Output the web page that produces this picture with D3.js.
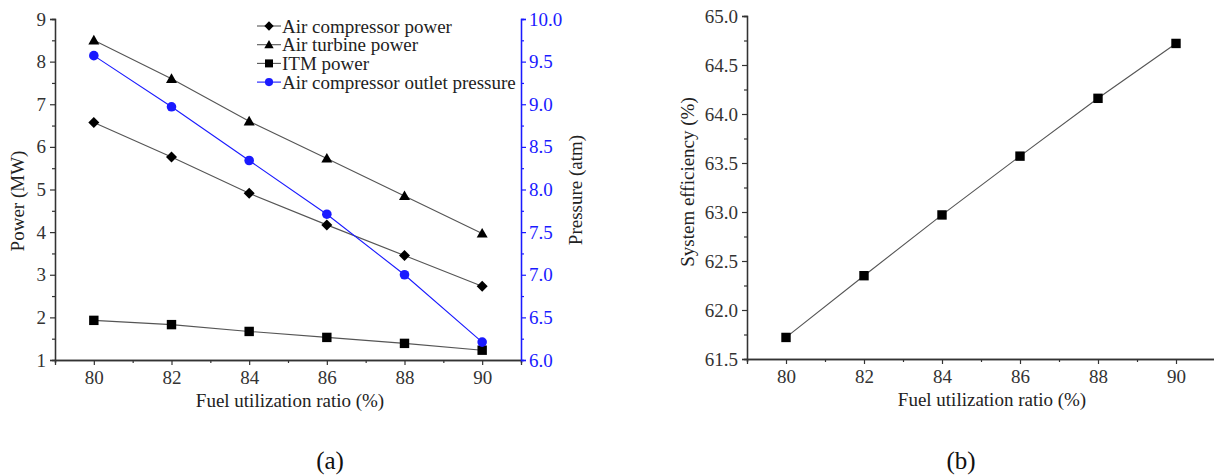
<!DOCTYPE html>
<html>
<head>
<meta charset="utf-8">
<script src="https://cdn.jsdelivr.net/npm/d3@7"></script>
<style>
  body { margin: 0; background: #fff; }
</style>
</head>
<body>
<div class="canvas"></div>
<script>
// fuel utilization ratio (%)
const fuel = [80, 82, 84, 86, 88, 90];

// panel (a)
const compPower = [6.57, 5.76, 4.91, 4.17, 3.45, 2.73];
const turbPower = [8.50, 7.60, 6.60, 5.73, 4.85, 3.97];
const itmPower = [1.93, 1.83, 1.67, 1.53, 1.39, 1.23];
const outletPressure = [9.57, 8.97, 8.34, 7.71, 7.00, 6.21];

// panel (b)
const efficiency = [61.72, 62.35, 62.97, 63.57, 64.16, 64.72];

const powerTicks = [1, 2, 3, 4, 5, 6, 7, 8, 9];
const pressTicks = [6.0, 6.5, 7.0, 7.5, 8.0, 8.5, 9.0, 9.5, 10.0];
const effTicks = [61.5, 62.0, 62.5, 63.0, 63.5, 64.0, 64.5, 65.0];

const FONT = '"Liberation Serif", "Times New Roman", Times, serif';
const axisCol = '#333';
const lineCol = '#555';
const blue = '#1a1aff';

const svg = d3.select('.canvas')
  .append('svg')
  .attr('width', 1214)
  .attr('height', 475)
  .attr('font-family', FONT);

// draws an axis + its minor ticks
function drawAxis(g, axisFn, scale, major, minor, fmt, color, pad) {
  const a = g.append('g').call(axisFn(scale).tickValues(major).tickFormat(fmt).tickSize(5).tickPadding(pad));
  const m = g.append('g').call(axisFn(scale).tickValues(minor).tickFormat('').tickSize(3));
  [a, m].forEach(s => {
    s.attr('font-family', FONT);
    s.select('.domain').attr('stroke', color).attr('stroke-width', 1.3);
    s.selectAll('.tick line').attr('stroke', color).attr('stroke-width', 1.2);
    s.selectAll('.tick text').attr('fill', color).style('font-size', '19px');
  });
  return a;
}

function marker(sel, type, color) {
  if (type === 'circle') {
    sel.append('circle').attr('r', 4.8).attr('fill', color);
  } else if (type === 'diamond') {
    sel.append('path').attr('d', 'M0,-5.5L5.5,0L0,5.5L-5.5,0Z').attr('fill', color);
  } else if (type === 'triangle') {
    sel.append('path').attr('d', 'M0,-5.5L5.5,4.2L-5.5,4.2Z').attr('fill', color);
  } else {
    sel.append('rect').attr('x', -4.7).attr('y', -4.7).attr('width', 9.4).attr('height', 9.4).attr('fill', color);
  }
}

function drawSeries(g, xs, ys, vals, type, color) {
  const line = d3.line().x((d, i) => xs(fuel[i])).y(d => ys(d));
  g.append('path').datum(vals)
    .attr('d', line).attr('fill', 'none')
    .attr('stroke', color === '#000' ? lineCol : color).attr('stroke-width', 1.1);
  g.selectAll(null).data(vals).enter().append('g')
    .attr('transform', (d, i) => `translate(${xs(fuel[i])},${ys(d)})`)
    .each(function() { marker(d3.select(this), type, color); });
}

const xMinor = [79, 81, 83, 85, 87, 89, 91];

// ---------- panel (a) ----------
const ga = svg.append('g');
const xa = d3.scaleLinear().domain([79, 91]).range([55, 521]);
const ya = d3.scaleLinear().domain([1, 9]).range([360, 19]);
const yp = d3.scaleLinear().domain([6, 10]).range([360, 19]);

const axA = ga.append('g').attr('transform', 'translate(0,360)');
drawAxis(axA, d3.axisBottom, xa, fuel, xMinor, d3.format('d'), axisCol, 6);
const ayA = ga.append('g').attr('transform', 'translate(55,0)');
drawAxis(ayA, d3.axisLeft, ya, powerTicks, d3.range(1.5, 9, 1), d3.format('d'), axisCol, 4);
const apA = ga.append('g').attr('transform', 'translate(521,0)');
drawAxis(apA, d3.axisRight, yp, pressTicks, d3.range(6.25, 10, 0.5), d3.format('.1f'), blue, 3);

drawSeries(ga, xa, ya, turbPower, 'triangle', '#000');
drawSeries(ga, xa, ya, compPower, 'diamond', '#000');
drawSeries(ga, xa, ya, itmPower, 'square', '#000');
drawSeries(ga, xa, yp, outletPressure, 'circle', blue);

ga.append('text').attr('x', 290).attr('y', 407).attr('text-anchor', 'middle')
  .style('font-size', '19px').attr('fill', '#222').text('Fuel utilization ratio (%)');
ga.append('text').attr('transform', 'translate(24,201) rotate(-90)').attr('text-anchor', 'middle')
  .style('font-size', '19px').attr('fill', '#222').text('Power (MW)');
ga.append('text').attr('transform', 'translate(582,190) rotate(-90)').attr('text-anchor', 'middle')
  .style('font-size', '19px').attr('fill', '#222').text('Pressure (atm)');

// legend
const legendNames = ['Air compressor power', 'Air turbine power', 'ITM power', 'Air compressor outlet pressure'];
const legendTypes = ['diamond', 'triangle', 'square', 'circle'];
const legendCols = ['#000', '#000', '#000', blue];
const lg = ga.append('g').attr('transform', 'translate(257,26)');
legendNames.forEach((name, i) => {
  const row = lg.append('g').attr('transform', `translate(0,${i * 18.7})`);
  row.append('line').attr('x1', 0).attr('x2', 24).attr('stroke', legendCols[i] === '#000' ? lineCol : blue).attr('stroke-width', 1.1);
  marker(row.append('g').attr('transform', 'translate(12,0) scale(0.85)'), legendTypes[i], legendCols[i]);
  row.append('text').attr('x', 25).attr('dy', '0.35em').style('font-size', '19px').attr('fill', '#222').text(name);
});

svg.append('text').attr('x', 330).attr('y', 469).attr('text-anchor', 'middle')
  .style('font-size', '25px').attr('fill', '#111').text('(a)');

// ---------- panel (b) ----------
const gb = svg.append('g');
const xb = d3.scaleLinear().domain([79, 91]).range([747, 1215]);
const yb = d3.scaleLinear().domain([61.5, 65]).range([359, 16]);

const axB = gb.append('g').attr('transform', 'translate(0,359)');
drawAxis(axB, d3.axisBottom, xb, fuel, xMinor, d3.format('d'), axisCol, 6);
const ayB = gb.append('g').attr('transform', 'translate(747,0)');
drawAxis(ayB, d3.axisLeft, yb, effTicks, d3.range(61.75, 65, 0.5), d3.format('.1f'), axisCol, 4);

drawSeries(gb, xb, yb, efficiency, 'square', '#000');

gb.append('text').attr('x', 992).attr('y', 406).attr('text-anchor', 'middle')
  .style('font-size', '19px').attr('fill', '#222').text('Fuel utilization ratio (%)');
gb.append('text').attr('transform', 'translate(694,182) rotate(-90)').attr('text-anchor', 'middle')
  .style('font-size', '19px').attr('fill', '#222').text('System efficiency (%)');

svg.append('text').attr('x', 961).attr('y', 469).attr('text-anchor', 'middle')
  .style('font-size', '25px').attr('fill', '#111').text('(b)');
</script>
</body>
</html>
